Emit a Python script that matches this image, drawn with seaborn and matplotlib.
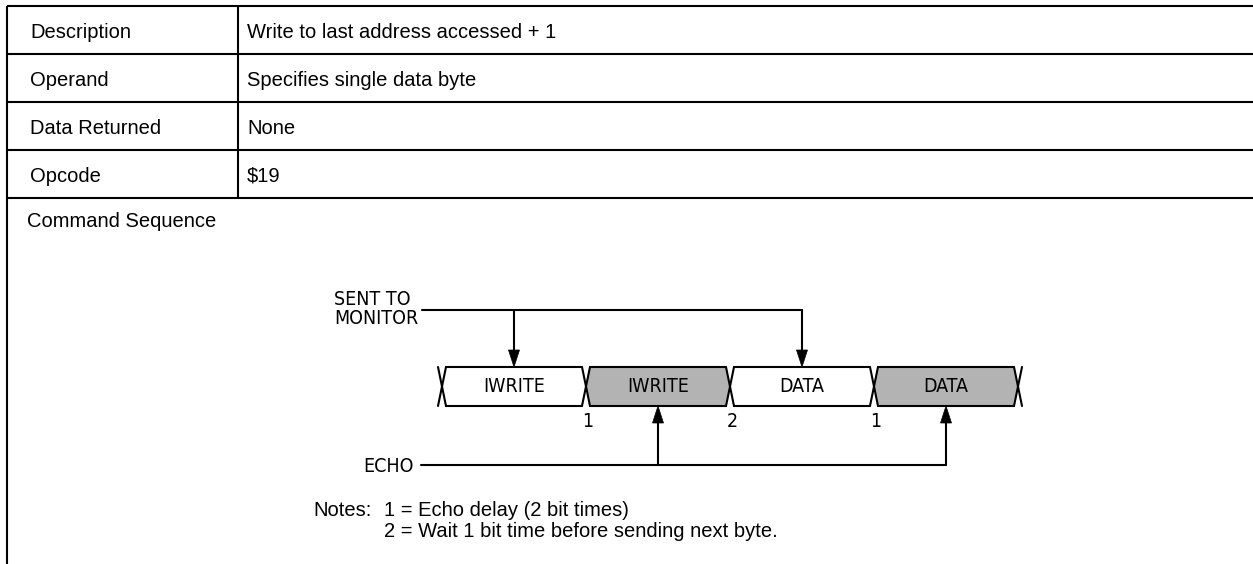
import matplotlib
matplotlib.use("Agg")
import matplotlib.pyplot as plt
import seaborn as sns
from matplotlib import font_manager
from matplotlib.patches import Polygon

# table content
row_names = ["Description", "Operand", "Data Returned", "Opcode"]
row_values = ["Write to last address accessed + 1", "Specifies single data byte", "None", "$19"]
section_title = "Command Sequence"

# timing diagram content
byte_labels = ["IWRITE", "IWRITE", "DATA", "DATA"]
byte_shaded = [False, True, False, True]
gap_marks = ["1", "2", "1"]
sent_label = "SENT TO\nMONITOR"
echo_label = "ECHO"
note_items = ["1 = Echo delay (2 bit times)", "2 = Wait 1 bit time before sending next byte."]

sns.set_theme(style="white")
plt.rcParams["font.family"] = ["Liberation Sans", "DejaVu Sans"]
plt.rcParams["text.color"] = "black"

names = {f.name for f in font_manager.fontManager.ttflist}
if "Liberation Sans Narrow" in names:
    narrow = dict(family="Liberation Sans Narrow")
else:
    narrow = dict(family="DejaVu Sans", stretch="condensed")

W, H = 1253, 564
fig = plt.figure(figsize=(W / 100, H / 100), dpi=100)
ax = fig.add_axes([0, 0, 1, 1])
ax.set_xlim(0, W)
ax.set_ylim(H, 0)
ax.axis("off")

lw = 1.5
gray = "#b3b3b3"

# ---- table ----
x_left, x_div = 7, 238
row_h = 48
y_top = 6
for i in range(len(row_names) + 1):
    y = y_top + i * row_h
    ax.plot([x_left, W], [y, y], color="black", lw=lw, solid_capstyle="butt")
ax.plot([x_left, x_left], [y_top, H], color="black", lw=lw, solid_capstyle="butt")
ax.plot([x_div, x_div], [y_top, y_top + len(row_names) * row_h], color="black", lw=lw)

for i, (name, val) in enumerate(zip(row_names, row_values)):
    yb = y_top + i * row_h + row_h / 2 + 7.5
    ax.text(30, yb, name, fontsize=14.5, va="baseline", ha="left")
    ax.text(247, yb, val, fontsize=14.5, va="baseline", ha="left")

ax.text(27, 227, section_title, fontsize=14.5, va="baseline", ha="left")

# ---- timing diagram ----
x0, period, h = 442, 144, 4
bus_top, bus_bot = 367, 406
bus_mid = (bus_top + bus_bot) / 2

for i, (lab, shaded) in enumerate(zip(byte_labels, byte_shaded)):
    a = x0 + i * period
    b = a + period
    pts = [(a + h, bus_top), (b - h, bus_top), (b, bus_mid),
           (b - h, bus_bot), (a + h, bus_bot), (a, bus_mid)]
    ax.add_patch(Polygon(pts, closed=True, facecolor=gray if shaded else "white",
                         edgecolor="black", lw=lw, joinstyle="miter"))
    ax.text((a + b) / 2, bus_mid + 5, lab, fontsize=14, va="baseline", ha="center", **narrow)

# outer half-crossings
x_end = x0 + len(byte_labels) * period
for xe, s in [(x0, -1), (x_end, 1)]:
    ax.plot([xe + s * h, xe, xe + s * h], [bus_top, bus_mid, bus_bot], color="black", lw=lw)

for i, m in enumerate(gap_marks):
    ax.text(x0 + (i + 1) * period + 2, 427, m, fontsize=14, va="baseline", ha="center", **narrow)


def arrow(x, y_from, y_tip):
    d = 1 if y_tip > y_from else -1
    head_len, head_w = 17, 5.5
    ax.plot([x, x], [y_from, y_tip - d * head_len], color="black", lw=lw)
    ax.add_patch(Polygon([(x - head_w, y_tip - d * head_len), (x + head_w, y_tip - d * head_len),
                          (x, y_tip)], closed=True, facecolor="black", edgecolor="black", lw=0.5))


# sent-to line and arrows into first and third byte
sent_y = 310
send_x = [x0 + period / 2, x0 + 2.5 * period]
ax.plot([422, send_x[-1]], [sent_y, sent_y], color="black", lw=lw)
for x in send_x:
    arrow(x, sent_y, bus_top)
ax.text(334, 324, sent_label, fontsize=14, va="baseline", ha="left", linespacing=1.0, **narrow)

# echo line and arrows into second and fourth byte
echo_y = 465
echo_x = [x0 + 1.5 * period, x0 + 3.5 * period]
ax.plot([421, echo_x[-1]], [echo_y, echo_y], color="black", lw=lw)
for x in echo_x:
    arrow(x, echo_y, bus_bot)
ax.text(414, echo_y + 7, echo_label, fontsize=14, va="baseline", ha="right", **narrow)

# notes
ax.text(313, 516, "Notes:", fontsize=14.5, va="baseline", ha="left")
for i, n in enumerate(note_items):
    ax.text(384, 516 + i * 21, n, fontsize=14.5, va="baseline", ha="left")

fig.savefig("out.png", dpi=100)
